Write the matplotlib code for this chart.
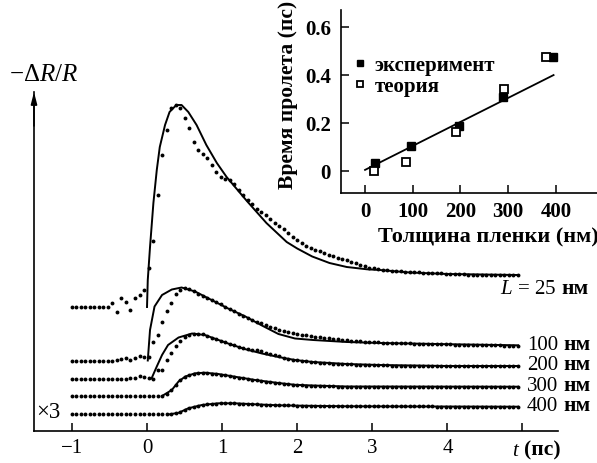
import numpy as np
import matplotlib
matplotlib.use("Agg")
import matplotlib.pyplot as plt

plt.rcParams['font.family'] = ['Liberation Serif', 'DejaVu Serif']
plt.rcParams['mathtext.fontset'] = 'custom'
plt.rcParams['mathtext.rm'] = 'Liberation Serif'
plt.rcParams['mathtext.it'] = 'Liberation Serif:italic'
plt.rcParams['mathtext.bf'] = 'Liberation Serif:bold'
plt.rcParams['axes.unicode_minus'] = True

# ---------------- main panel data ----------------
# measurement times (ps), one dot every 0.06 ps
t_exp = np.round(-1.0 + 0.06 * np.arange(100), 2)

s25 = [0, 0, 0, 0, 0, 0, 0, 0, 0,
       0.4, -0.5, 0.9, 0.5, -0.3, 0.9, 1.2, 1.7,
       3.9, 6.6, 11.2, 15.2, 17.7, 19.9, 20.2, 19.9,
       18.9, 17.9, 16.5, 15.7, 15.3, 14.9, 14.2, 13.5,
       13.0, 12.85, 12.7, 12.3, 11.7, 11.2, 10.75, 10.3,
       9.85, 9.5, 9.2, 8.8, 8.4, 8.1, 7.8, 7.4,
       7.0, 6.7, 6.4, 6.15, 5.95, 5.75, 5.6, 5.4,
       5.25, 5.1, 4.95, 4.8, 4.7, 4.55, 4.4, 4.2,
       4.1, 3.95, 3.87, 3.8, 3.75, 3.7, 3.65, 3.6,
       3.6, 3.55, 3.55, 3.5, 3.5, 3.45, 3.45, 3.4,
       3.4, 3.4, 3.35, 3.35, 3.3, 3.3, 3.3, 3.25, 3.25, 3.25,
       3.2, 3.2, 3.2, 3.2, 3.2, 3.2, 3.2, 3.2, 3.2]

s100 = [0, 0, 0, 0, 0, 0, 0, 0, 0, 0,
        0.1, 0.2, 0.3, 0.1, 0.3, 0.5, 0.4,
        0.4, 1.85, 2.55, 3.85, 4.95, 5.75, 6.65, 7.1,
        7.3, 7.15, 6.95, 6.7, 6.5, 6.3, 6.1, 5.85,
        5.65, 5.4, 5.15, 4.95, 4.7, 4.5, 4.25, 4.1,
        3.9, 3.75, 3.6, 3.4, 3.25, 3.1, 3.0, 2.9,
        2.8, 2.7, 2.6, 2.55, 2.45, 2.4, 2.35, 2.3,
        2.25, 2.2, 2.15, 2.1, 2.05, 2.0, 2.0, 1.95,
        1.9, 1.9, 1.85, 1.85, 1.8, 1.8, 1.8, 1.75,
        1.75, 1.75, 1.75, 1.7, 1.7, 1.7, 1.7, 1.65,
        1.65, 1.65, 1.65, 1.65, 1.6, 1.6, 1.6, 1.6, 1.6, 1.55,
        1.55, 1.55, 1.55, 1.55, 1.55, 1.5, 1.5, 1.5, 1.5]

s200 = [0, 0, 0, 0, 0, 0, 0, 0, 0, 0, 0, 0, 0,
        0.05, 0.1, 0.25, 0.2,
        0.1, 0.0, 0.85, 0.9, 1.85, 2.55, 3.25, 3.8,
        4.15, 4.35, 4.5, 4.5, 4.45, 4.3, 4.1, 3.95,
        3.8, 3.65, 3.5, 3.35, 3.2, 3.05, 2.95, 2.9,
        2.9, 2.8, 2.6, 2.45, 2.35, 2.25, 2.1, 2.0,
        1.9, 1.85, 1.8, 1.75, 1.7, 1.65, 1.6, 1.6,
        1.55, 1.5, 1.5, 1.45, 1.45, 1.45, 1.4, 1.4,
        1.4, 1.35, 1.35, 1.35, 1.35, 1.35, 1.3, 1.3,
        1.3, 1.3, 1.3, 1.3, 1.3, 1.3, 1.3, 1.3,
        1.3, 1.3, 1.3, 1.3, 1.25, 1.25, 1.25, 1.25, 1.25, 1.25,
        1.25, 1.25, 1.25, 1.25, 1.25, 1.25, 1.25, 1.25, 1.25]

s300 = [0] * 20 + \
       [0.05, 0.2, 0.6, 1.1, 1.6,
        1.95, 2.15, 2.25, 2.3, 2.3, 2.3, 2.25, 2.2,
        2.15, 2.1, 2.0, 1.95, 1.85, 1.8, 1.7, 1.65,
        1.6, 1.5, 1.45, 1.4, 1.35, 1.3, 1.25, 1.2,
        1.15, 1.1, 1.1, 1.05, 1.05, 1.05, 1.0, 1.0,
        1.0, 1.0, 0.95, 0.95, 0.95, 0.95, 0.95, 0.95,
        0.95, 0.95, 0.95, 0.95, 0.9, 0.9, 0.9, 0.9,
        0.9, 0.9, 0.9, 0.9, 0.9, 0.9, 0.9, 0.9,
        0.9, 0.9, 0.9, 0.9, 0.9, 0.9, 0.9, 0.9, 0.9, 0.9,
        0.9, 0.9, 0.9, 0.9, 0.9, 0.9, 0.9, 0.9, 0.9]

s400 = [0] * 22 + \
       [0.05, 0.1, 0.2,
        0.45, 0.6, 0.75, 0.85, 0.93, 1.0, 1.05, 1.08,
        1.1, 1.1, 1.1, 1.1, 1.08, 1.06, 1.04, 1.02,
        1.0, 0.98, 0.97, 0.95, 0.94, 0.93, 0.92, 0.91,
        0.9, 0.88, 0.87, 0.86, 0.85, 0.85, 0.84, 0.84,
        0.83, 0.83, 0.82, 0.82, 0.82, 0.81, 0.81, 0.81,
        0.8, 0.8, 0.8, 0.8, 0.8, 0.8, 0.8, 0.8,
        0.8, 0.8, 0.8, 0.79, 0.79, 0.79, 0.79, 0.79,
        0.78, 0.78, 0.78, 0.78, 0.78, 0.78, 0.78, 0.78, 0.78, 0.78,
        0.77, 0.77, 0.77, 0.77, 0.77, 0.77, 0.77, 0.77, 0.77]

# theory curves (solid lines)
th25_t = [0.0, 0.01, 0.04, 0.085, 0.13, 0.17, 0.24, 0.30, 0.39, 0.46, 0.55, 0.66,
          0.79, 0.93, 1.06, 1.15, 1.33, 1.59, 1.86, 2.0, 2.2, 2.43, 2.66, 2.93,
          3.1, 3.5, 4.0, 4.94]
th25_s = [0, 2.7, 6.0, 10.4, 13.7, 16.0, 18.2, 19.5, 20.2, 20.2, 19.5, 18.2,
          16.2, 14.4, 13.0, 12.2, 10.6, 8.4, 6.5, 5.85, 5.05, 4.4, 4.0, 3.77,
          3.7, 3.45, 3.3, 3.2]
th100_t = [0.01, 0.04, 0.10, 0.20, 0.33, 0.46, 0.64, 0.86, 1.08, 1.31, 1.53, 1.75,
           1.97, 2.21, 2.66, 3.1, 3.5, 4.0, 4.94]
th100_s = [0, 3.05, 5.4, 6.55, 7.1, 7.3, 6.9, 6.05, 5.2, 4.4, 3.5, 2.65,
           2.2, 2.05, 1.85, 1.75, 1.7, 1.63, 1.52]
th200_t = [0.06, 0.13, 0.20, 0.28, 0.42, 0.60, 0.77, 1.08, 1.30, 1.53, 1.75, 1.97,
           2.21, 2.66, 3.1, 4.0, 4.94]
th200_s = [0, 1.2, 2.35, 3.35, 4.1, 4.5, 4.35, 3.5, 2.95, 2.5, 2.15, 1.85,
           1.65, 1.45, 1.35, 1.25, 1.25]
th300_t = [0.20, 0.33, 0.42, 0.51, 0.64, 0.77, 0.95, 1.17, 1.44, 1.75, 1.97, 2.21,
           2.66, 4.94]
th300_s = [0, 0.6, 1.45, 1.95, 2.27, 2.33, 2.2, 1.93, 1.6, 1.3, 1.12, 1.05, 0.95, 0.93]
th400_t = [0.30, 0.42, 0.55, 0.73, 0.95, 1.17, 1.44, 1.75, 1.97, 2.66, 4.94]
th400_s = [0, 0.15, 0.6, 0.93, 1.1, 1.1, 1.0, 0.9, 0.87, 0.8, 0.76]

offsets = [12.4, 7.05, 5.25, 3.5, 1.67]
curve_nums = ['$L$ = 25', '100', '200', '300', '400']
curve_unit = 'нм'

# ---------------- inset data ----------------
thick_exp = [21, 96, 197, 290, 393]
time_exp = [0.032, 0.105, 0.187, 0.31, 0.476]
thick_th = [19, 86, 191, 292, 379]
time_th = [0.0, 0.039, 0.161, 0.34, 0.476]
fit_x = [0, 395]
fit_y = [0.005, 0.40]

# ---------------- figure ----------------
W, H = 597, 463
fig = plt.figure(figsize=(W / 100, H / 100), dpi=100)

def frac(l, t, r, b):
    return [l / W, 1 - b / H, (r - l) / W, (b - t) / H]

ax = fig.add_axes(frac(34, 92, 557.7, 431))
ax.set_xlim(-1.505, 5.469)
ax.set_ylim(0, 33.9)
for sp in ['top', 'right']:
    ax.spines[sp].set_visible(False)
for sp in ['left', 'bottom']:
    ax.spines[sp].set_linewidth(1.2)
ax.set_yticks([])
ax.set_xticks([-1, 0, 1, 2, 3, 4, 5])
ax.set_xticklabels(['\u22121', '0', '1', '2', '3', '4', ''])
ax.tick_params(axis='x', direction='in', length=6, width=1.1, labelsize=15, pad=6)

series = [(s25, th25_t, th25_s), (s100, th100_t, th100_s), (s200, th200_t, th200_s),
          (s300, th300_t, th300_s), (s400, th400_t, th400_s)]
for (s, tt, ts), off in zip(series, offsets):
    ax.plot(tt, np.array(ts) + off, '-', color='black', lw=1.4, zorder=2)
    ax.plot(t_exp, np.array(s) + off, 'o', color='black', ms=2.8, mew=0, zorder=3)


def two_part(x, y, first, second, fs1=15, fs2=15.5, gap=4):
    t1 = fig.text(x / W, 1 - y / H, first, fontsize=fs1, ha='left', va='center')
    ax.annotate(second, xy=(1, 0), xycoords=t1, xytext=(gap, 0),
                textcoords='offset points', fontsize=fs2, fontweight='bold',
                ha='left', va='bottom', annotation_clip=False)


# curve labels
lab_pos = [(500, 290), (527, 345.3), (527, 366), (527, 386.7), (527, 406.7)]
for txt, (px, py) in zip(curve_nums, lab_pos):
    two_part(px, py, txt, curve_unit)

fig.text(36 / W, 1 - 412 / H, '\u00d73', fontsize=16.5, ha='left', va='center')
two_part(512, 451, '$t$', '(пс)', gap=3)
fig.text(44 / W, 1 - 75 / H, r'$-\Delta R/R$', fontsize=18, ha='center', va='center')

# arrow on y axis
ax.annotate('', xy=(0, 1.0), xytext=(0, 0.9), xycoords='axes fraction',
            arrowprops=dict(arrowstyle='-|>,head_length=0.7,head_width=0.18',
                            color='black', lw=1.2, shrinkA=0, shrinkB=0))

# ---------------- inset ----------------
ins = fig.add_axes(frac(340.7, 10, 597, 192.7))
ins.patch.set_alpha(0)
ins.set_xlim(-51, 486)
ins.set_ylim(-0.09, 0.671)
for sp in ['top', 'right']:
    ins.spines[sp].set_visible(False)
for sp in ['left', 'bottom']:
    ins.spines[sp].set_linewidth(1.2)
ins.set_xticks([0, 100, 200, 300, 400])
ins.set_yticks([0, 0.2, 0.4, 0.6])
ins.set_yticklabels(['0', '0.2', '0.4', '0.6'])
ins.tick_params(direction='in', length=6, width=1.1, labelsize=15, pad=7)
for lab in ins.get_xticklabels() + ins.get_yticklabels():
    lab.set_fontweight('bold')

ins.plot(fit_x, fit_y, '-', color='black', lw=1.3)
ins.plot(thick_exp, time_exp, 's', color='black', ms=5.5, label='эксперимент')
ins.plot(thick_th, time_th, 's', mfc='white', mec='black', mew=1.3, ms=5.5, label='теория')
leg = ins.legend(loc='upper left', bbox_to_anchor=(0.055, 0.75), frameon=False,
                 handlelength=0.5, handletextpad=0.45, borderaxespad=0, borderpad=0,
                 labelspacing=0.05, prop={'size': 15, 'weight': 'bold'}, markerscale=0.9)

ins.set_xlabel('Толщина пленки (нм)', fontsize=16, fontweight='bold', va='center')
ins.xaxis.set_label_coords((488 - 340.7) / 256.3, (192.7 - 237) / 182.7)
ins.set_ylabel('Время пролета (пс)', fontsize=15.5, fontweight='bold', va='center')
ins.yaxis.set_label_coords((288 - 340.7) / 256.3, (192.7 - 95) / 182.7)

fig.savefig('out.png', dpi=100)
